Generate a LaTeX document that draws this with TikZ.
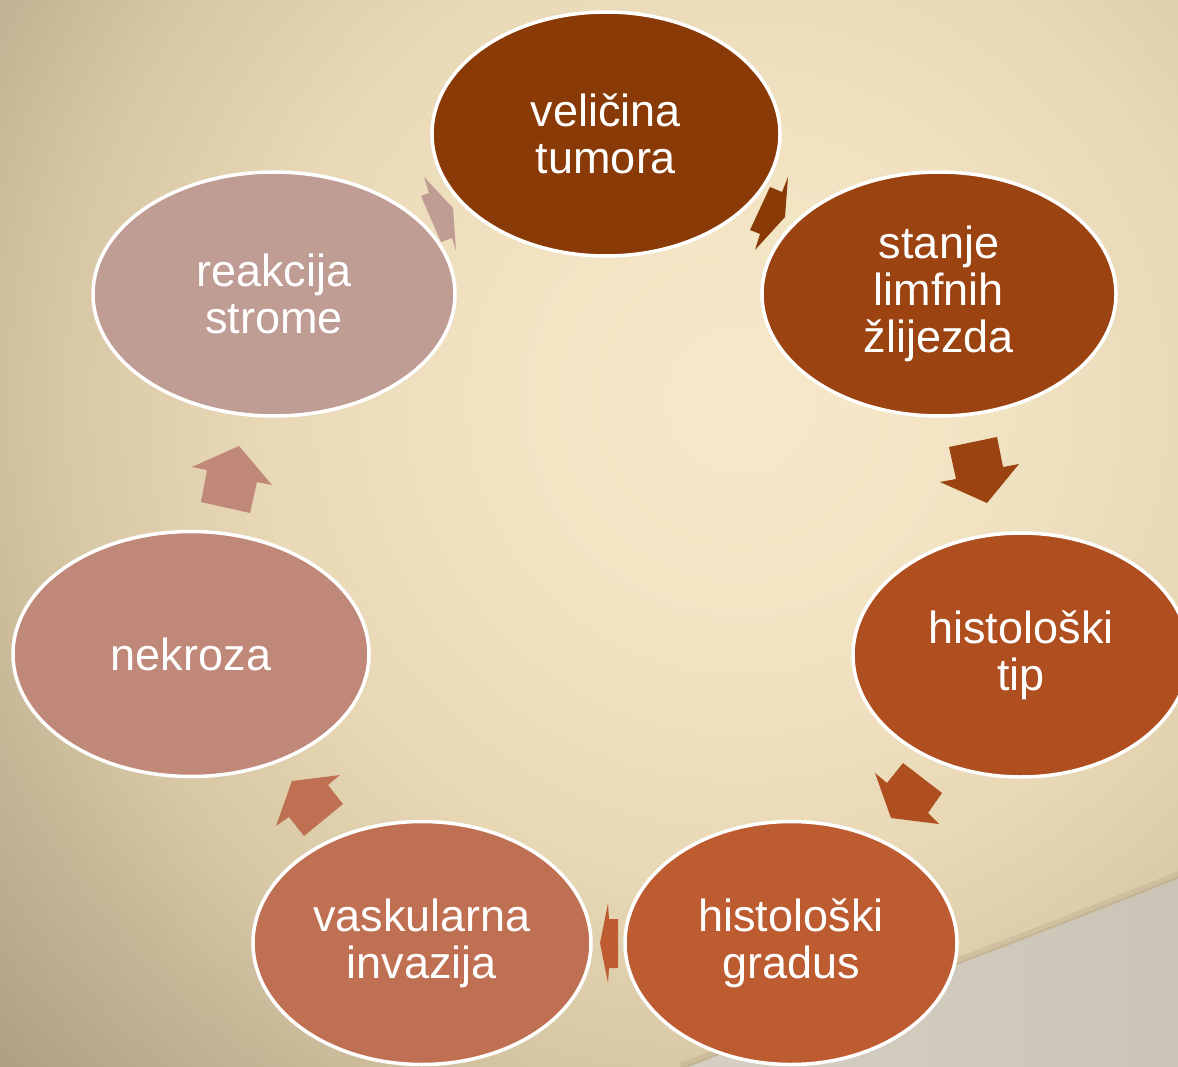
\documentclass[tikz,border=0pt]{standalone}
\usepackage{fontspec}
\setmainfont{Liberation Sans}
\usetikzlibrary{shapes.geometric}

\definecolor{bg0}{HTML}{F6E8C9}
\definecolor{bg1}{HTML}{F2E3C3}
\definecolor{bg2}{HTML}{E8D8B6}
\definecolor{bg3}{HTML}{D7C7A5}
\definecolor{bg4}{HTML}{C0B292}
\definecolor{bg5}{HTML}{AE9F82}
\definecolor{swA}{HTML}{D6D0C4}
\definecolor{swB}{HTML}{CBC4B6}
\definecolor{swEdge}{HTML}{A89A7C}
\definecolor{cA}{HTML}{8A3A06}
\definecolor{cB}{HTML}{9B4311}
\definecolor{cC}{HTML}{AF4F1F}
\definecolor{cD}{HTML}{BD5B31}
\definecolor{cE}{HTML}{C07052}
\definecolor{cF}{HTML}{C08878}
\definecolor{cG}{HTML}{BF9C94}

\pgfdeclareradialshading{paper}{\pgfpoint{0bp}{0bp}}{%
  color(0bp)=(bg0); color(6bp)=(bg1); color(12bp)=(bg2);
  color(17bp)=(bg3); color(21bp)=(bg4); color(25bp)=(bg5);
  color(50bp)=(bg5)}

\tikzset{
  stage/.style={ellipse, draw=white, line width=3.5pt, text=white,
    inner sep=0pt, align=center,
    font=\fontsize{45}{47}\selectfont}
}

\begin{document}
\begin{tikzpicture}[x=1pt,y=-1pt]
  \useasboundingbox (0,0) rectangle (1178,1067);

  % paper background with a soft radial glow
  \begin{scope}
    \clip (0,0) rectangle (1178,1067);
    \shade[shading=paper] (740,400) circle (1000);
    % grey swoosh in the lower right corner
    \shade[left color=swA, right color=swB]
      (680,1070) .. controls (850,1005) and (1000,950) .. (1182,877)
      -- (1182,1070) -- cycle;
    \draw[swEdge, opacity=0.25, line width=6pt]
      (680,1066) .. controls (850,1001) and (1000,946) .. (1182,873);
    \draw[swEdge, opacity=0.35, line width=2pt]
      (680,1069) .. controls (850,1004) and (1000,949) .. (1182,876);

    % cycle stages
    \node[stage, fill=cA, minimum width=348pt, minimum height=244pt]
      (size) at (606,134) {veličina\\tumora};
    \node[stage, fill=cB, minimum width=354pt, minimum height=244pt]
      (nodes) at (939,294) {stanje\\limfnih\\žlijezda};
    \node[stage, fill=cC, minimum width=336pt, minimum height=244pt]
      (type) at (1021,655) {histološki\\tip};
    \node[stage, fill=cD, minimum width=332pt, minimum height=243pt]
      (grade) at (791,943) {histološki\\gradus};
    \node[stage, fill=cE, minimum width=338pt, minimum height=243pt]
      (vasc) at (422,943) {vaskularna\\invazija};
    \node[stage, fill=cF, minimum width=356pt, minimum height=245pt]
      (necr) at (191,654) {nekroza};
    \node[stage, fill=cG, minimum width=362pt, minimum height=244pt]
      (stroma) at (274,294) {reakcija\\strome};

    % block arrows between the stages
    \fill[cG] (424,177) -- (429,193) -- (421,196) -- (441,242)
      -- (452,238) -- (456,251) -- (453,208) -- cycle;
    \fill[cA] (788,177) -- (782,192) -- (770,187) -- (750,230)
      -- (760,234) -- (755,250) -- (785,217) -- cycle;
    \fill[cB] (949,447) -- (997,437) -- (1003,467) -- (1019,464)
      -- (987,503) -- (940,482) -- (956,479) -- cycle;
    \fill[cC] (903,763) -- (942,793) -- (928,813) -- (939,824)
      -- (891,818) -- (875,773) -- (887,783) -- cycle;
    \fill[cD] (608,903) -- (609,919) -- (618,919) -- (618,968)
      -- (609,968) -- (608,983) -- (600,943) -- cycle;
    \fill[cE] (340,775) -- (328,785) -- (343,804) -- (304,836)
      -- (289,817) -- (276,826) -- (292,781) -- cycle;
    \fill[cF] (239,446) -- (272,485) -- (257,482) -- (250,513)
      -- (201,502) -- (207,470) -- (192,467) -- cycle;
  \end{scope}
\end{tikzpicture}
\end{document}
